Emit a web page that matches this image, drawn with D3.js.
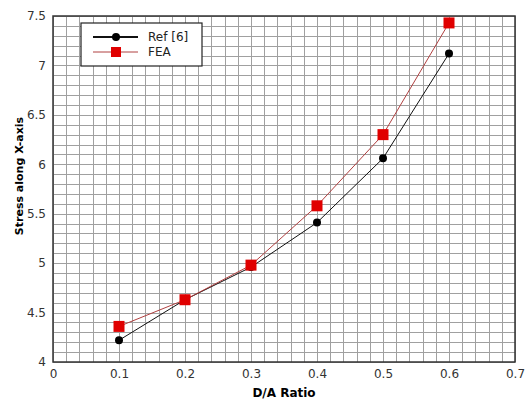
<!DOCTYPE html>
<html>
<head>
<meta charset="utf-8">
<script src="https://cdn.jsdelivr.net/npm/d3@7"></script>
<style>
body{margin:0;background:#fff;}
svg text{font-family:"DejaVu Sans",Verdana,sans-serif;}
</style>
</head>
<body>
<svg id="chart" width="529" height="403"></svg>
<script>
// -- data
var ratios = [0.1, 0.2, 0.3, 0.4, 0.5, 0.6];
var refValues = [4.22, 4.63, 4.96, 5.41, 6.06, 7.12];
var feaValues = [4.36, 4.63, 4.98, 5.58, 6.30, 7.43];
var xTicks = [0, 0.1, 0.2, 0.3, 0.4, 0.5, 0.6, 0.7];
var yTicks = [4, 4.5, 5, 5.5, 6, 6.5, 7, 7.5];

var margin = {left:53, top:16, right:14, bottom:41};
var W = 529, H = 403;

var svg = d3.select("#chart");

var x = d3.scaleLinear().domain([0,0.7]).range([margin.left, W-margin.right]);
var y = d3.scaleLinear().domain([4,7.5]).range([H-margin.bottom, margin.top]);

// -- grid
var grid = svg.append("g").attr("class","grid");
grid.selectAll(".vgrid").data(d3.range(0,36).map(function(i){return i*0.02;})).enter()
    .append("line")
    .attr("x1",function(d){return Math.round(x(d))+0.5;})
    .attr("x2",function(d){return Math.round(x(d))+0.5;})
    .attr("y1",y(4)).attr("y2",y(7.5))
    .style("stroke","#a0a0a0").style("stroke-width",1);
grid.selectAll(".hgrid").data(d3.range(0,36).map(function(i){return 4+i*0.1;})).enter()
    .append("line")
    .attr("y1",function(d){return Math.round(y(d))+0.5;})
    .attr("y2",function(d){return Math.round(y(d))+0.5;})
    .attr("x1",x(0)).attr("x2",x(0.7))
    .style("stroke","#a0a0a0").style("stroke-width",1);

// -- frame
svg.append("rect").attr("x",x(0)).attr("y",y(7.5))
    .attr("width",x(0.7)-x(0)).attr("height",y(4)-y(7.5))
    .style("fill","none").style("stroke","#333").style("stroke-width",1.5);

// -- axes (labels only, no tick marks)
var xAxis = svg.append("g").attr("transform","translate(0,"+y(4)+")")
    .call(d3.axisBottom(x).tickValues(xTicks).tickSize(0).tickPadding(7).tickFormat(d3.format("")));
var yAxis = svg.append("g").attr("transform","translate("+x(0)+",0)")
    .call(d3.axisLeft(y).tickValues(yTicks).tickSize(0).tickPadding(7).tickFormat(d3.format("")));
[xAxis,yAxis].forEach(function(a){
    a.select(".domain").remove();
    a.selectAll("text").style("font-size","12px").style("fill","#333")
        .style("font-family","'DejaVu Sans',Verdana,sans-serif");
});

// -- axis titles
svg.append("text").attr("x",(x(0)+x(0.7))/2).attr("y",397)
    .attr("text-anchor","middle").style("font-weight","bold").style("font-size","12px")
    .text("D/A Ratio");
svg.append("text").attr("transform","translate(23,176) rotate(-90)")
    .attr("text-anchor","middle").style("font-weight","bold").style("font-size","11px")
    .text("Stress along X-axis");

// -- series
var series = [
    {name:"Ref [6]", values:refValues, color:"#000", line:"#111", marker:"circle"},
    {name:"FEA", values:feaValues, color:"#e00000", line:"#b04040", marker:"square"}
];

var line = d3.line().x(function(d){return x(d[0]);}).y(function(d){return y(d[1]);});

series.forEach(function(s){
    var pts = ratios.map(function(r,i){return [r, s.values[i]];});
    svg.append("path").datum(pts).attr("d",line)
        .style("fill","none").style("stroke",s.line).style("stroke-width",1);
    if (s.marker=="circle"){
        svg.selectAll(".c").data(pts).enter().append("circle")
            .attr("cx",function(d){return x(d[0]);}).attr("cy",function(d){return y(d[1]);})
            .attr("r",4).style("fill",s.color);
    }else{
        svg.selectAll(".s").data(pts).enter().append("rect")
            .attr("x",function(d){return x(d[0])-5.5;}).attr("y",function(d){return y(d[1])-5.5;})
            .attr("width",11).attr("height",11).style("fill",s.color);
    }
});

// -- legend
var legend = svg.append("g").attr("transform","translate(81,23)");
legend.append("rect").attr("width",121).attr("height",43)
    .style("fill","#fff").style("stroke","#222").style("stroke-width",1.2);
series.forEach(function(s,i){
    var ly = 14 + i*15;
    legend.append("line").attr("x1",12).attr("x2",57).attr("y1",ly).attr("y2",ly)
        .style("stroke",s.line).style("stroke-width",s.marker=="circle"?2:1);
    if (s.marker=="circle"){
        legend.append("circle").attr("cx",35).attr("cy",ly).attr("r",4).style("fill",s.color);
    }else{
        legend.append("rect").attr("x",30).attr("y",ly-5).attr("width",10).attr("height",10).style("fill",s.color);
    }
    legend.append("text").attr("x",67).attr("y",ly+4).style("font-size","12px").style("fill","#222").text(s.name);
});
</script>
</body>
</html>
